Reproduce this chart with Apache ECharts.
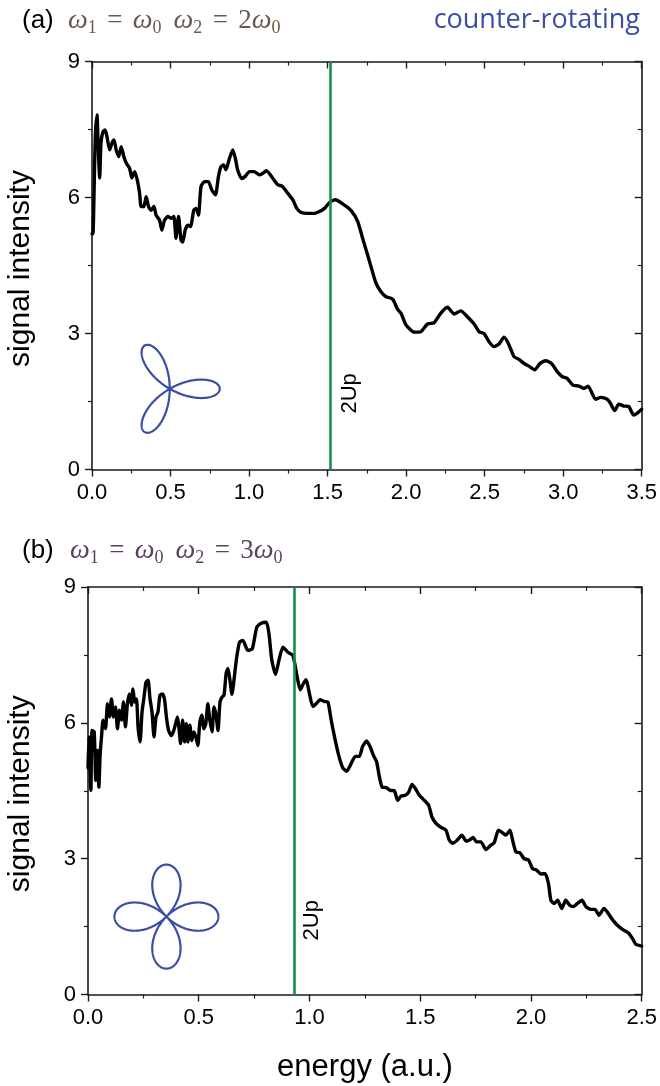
<!DOCTYPE html>
<html>
<head>
<meta charset="utf-8">
<script src="https://cdn.jsdelivr.net/npm/echarts@6/dist/echarts.min.js"></script>
<style>html,body{margin:0;padding:0;background:#fff}#c{width:660px;height:1086px}</style>
</head>
<body>
<div id="c"></div>
<script>
// ---------- data ----------
const topEnergy = [0.000,0.006,0.013,0.021,0.032,0.038,0.049,0.057,0.070,0.084,0.097,0.112,0.127,0.140,0.154,0.170,0.186,0.203,0.218,0.239,0.254,0.271,0.288,0.303,0.313,0.330,0.345,0.360,0.377,0.394,0.408,0.430,0.445,0.462,0.483,0.504,0.521,0.535,0.551,0.567,0.578,0.593,0.610,0.627,0.648,0.663,0.678,0.694,0.716,0.741,0.762,0.786,0.805,0.821,0.838,0.853,0.875,0.896,0.913,0.927,0.953,0.974,1.002,1.033,1.065,1.086,1.110,1.152,1.183,1.211,1.247,1.279,1.304,1.332,1.374,1.416,1.448,1.480,1.512,1.550,1.596,1.650,1.692,1.723,1.755,1.777,1.808,1.840,1.872,1.914,1.946,1.967,1.999,2.052,2.094,2.136,2.179,2.221,2.263,2.306,2.348,2.390,2.433,2.465,2.496,2.528,2.560,2.592,2.623,2.651,2.687,2.719,2.750,2.782,2.820,2.850,2.888,2.926,2.962,2.994,3.025,3.062,3.100,3.132,3.159,3.184,3.206,3.238,3.280,3.301,3.328,3.354,3.386,3.417,3.449,3.470,3.500];
const topSignal = [5.2,5.2,6.1,7.34,7.82,7.27,6.43,7.2,7.45,7.49,7.31,7.05,7.2,7.27,7.05,6.9,7.12,6.9,6.76,6.65,6.43,6.57,6.39,6.1,5.8,5.8,6.02,5.8,5.72,5.8,5.61,5.5,5.28,5.5,5.58,5.54,5.58,5.1,5.58,5.06,5.02,5.28,5.39,5.36,5.72,5.76,5.61,6.24,6.35,6.35,6.17,6.06,6.46,6.68,6.72,6.61,6.86,7.05,6.86,6.61,6.42,6.46,6.57,6.57,6.5,6.53,6.59,6.42,6.28,6.25,6.09,5.95,5.76,5.67,5.65,5.65,5.69,5.76,5.89,5.95,5.86,5.71,5.47,5.1,4.73,4.47,4.11,3.92,3.81,3.76,3.53,3.45,3.19,3.03,3.04,3.21,3.24,3.45,3.58,3.43,3.5,3.37,3.21,3.04,3.0,2.82,2.71,2.77,2.92,2.78,2.49,2.43,2.34,2.28,2.2,2.33,2.4,2.34,2.16,2.05,2.01,1.86,1.84,1.79,1.84,1.68,1.55,1.59,1.55,1.46,1.3,1.44,1.4,1.39,1.2,1.24,1.33];

const botEnergy = [0.000,0.004,0.013,0.018,0.028,0.035,0.043,0.049,0.055,0.061,0.068,0.079,0.088,0.097,0.106,0.115,0.124,0.133,0.142,0.151,0.160,0.169,0.178,0.187,0.196,0.203,0.211,0.219,0.226,0.235,0.244,0.253,0.262,0.271,0.280,0.289,0.298,0.307,0.316,0.325,0.337,0.346,0.355,0.364,0.376,0.385,0.394,0.404,0.411,0.418,0.427,0.436,0.444,0.451,0.460,0.469,0.478,0.487,0.496,0.505,0.514,0.523,0.532,0.541,0.550,0.560,0.569,0.578,0.587,0.596,0.605,0.614,0.624,0.632,0.641,0.650,0.659,0.670,0.684,0.699,0.722,0.742,0.762,0.782,0.805,0.817,0.830,0.847,0.862,0.880,0.902,0.925,0.943,0.958,0.973,0.985,1.000,1.015,1.030,1.048,1.068,1.083,1.098,1.113,1.132,1.150,1.168,1.188,1.207,1.225,1.240,1.258,1.274,1.289,1.303,1.316,1.328,1.346,1.364,1.383,1.398,1.413,1.433,1.448,1.463,1.478,1.496,1.514,1.538,1.553,1.571,1.594,1.616,1.631,1.646,1.669,1.688,1.707,1.725,1.739,1.754,1.774,1.797,1.819,1.834,1.853,1.872,1.887,1.905,1.917,1.932,1.950,1.969,1.989,2.007,2.025,2.045,2.064,2.079,2.090,2.105,2.120,2.139,2.157,2.175,2.190,2.210,2.230,2.248,2.270,2.289,2.307,2.330,2.349,2.367,2.390,2.413,2.440,2.458,2.473,2.500];
const botSignal = [5.0,5.69,4.51,5.83,5.8,4.73,5.39,4.58,5.32,5.69,6.06,5.87,6.42,6.13,6.53,6.13,6.35,5.87,6.28,6.06,6.46,5.91,6.42,6.64,6.39,6.75,6.46,6.53,5.91,5.58,6.24,6.57,6.9,6.94,6.53,6.24,5.69,6.13,6.24,6.61,6.64,6.5,6.09,5.83,5.72,5.8,5.95,6.13,5.87,5.54,6.06,5.58,5.98,5.58,5.95,5.61,5.8,5.69,5.5,6.02,6.17,5.87,5.98,6.42,6.06,5.8,6.35,6.17,5.83,6.46,6.57,6.61,7.1,7.2,6.94,6.63,6.94,7.4,7.78,7.82,7.6,7.64,8.11,8.2,8.22,7.97,7.38,7.07,7.38,7.67,7.56,7.49,7.05,6.73,6.87,6.95,6.64,6.36,6.42,6.51,6.47,6.46,6.06,5.69,5.28,5.01,4.93,5.1,5.26,5.26,5.48,5.6,5.47,5.28,5.14,4.8,4.58,4.57,4.51,4.5,4.29,4.38,4.4,4.47,4.64,4.55,4.4,4.31,4.18,3.92,3.78,3.69,3.63,3.41,3.34,3.42,3.52,3.39,3.42,3.47,3.37,3.37,3.2,3.3,3.35,3.63,3.57,3.52,3.63,3.41,3.15,3.13,3.0,2.97,2.78,2.75,2.66,2.67,2.45,2.08,2.01,2.08,1.9,2.08,1.97,1.94,2.01,2.08,1.94,1.88,1.88,1.75,1.9,1.79,1.66,1.53,1.44,1.36,1.24,1.11,1.07];

// axis ranges [min, max, interval]
const topX = [0, 3.5, 0.5];
const botX = [0, 2.5, 0.5];
const yRange = [0, 9, 3];
// 2Up positions (energy)
const up2 = [1.525, 0.929];
const upLabel = '2Up';
const yName = 'signal intensity';
const xName = 'energy (a.u.)';

// ---------- chart ----------
const chart = echarts.init(document.getElementById('c'), null, {renderer: 'canvas'});
const AX = '#1a1a1a';
const SANS = "'Liberation Sans', Arial, sans-serif";
const SERIF = "'Liberation Serif', 'DejaVu Serif', serif";

function axis(gridIndex, pos, range, showLabel, inside, fmt) {
  return {
    type: 'value', gridIndex: gridIndex, position: pos,
    min: range[0], max: range[1], interval: range[2],
    axisLine: {show: true, onZero: false, lineStyle: {color: AX, width: 1.6}},
    axisTick: {show: true, inside: inside, length: 7, lineStyle: {color: AX, width: 1.4}},
    minorTick: {show: true, splitNumber: 2, length: 4, lineStyle: {color: AX, width: 1.2}},
    splitLine: {show: false}, minorSplitLine: {show: false},
    axisLabel: {show: showLabel, fontSize: 22, color: '#000', fontFamily: SANS, margin: 12, formatter: fmt}
  };
}
const fx = v => v.toFixed(1);
const fy = v => String(v);

function lineSeries(xi, yi, xs, ys, mark) {
  return {
    type: 'line', xAxisIndex: xi, yAxisIndex: yi,
    data: xs.map((e, i) => [e, ys[i]]),
    showSymbol: false, smooth: 0.2,
    lineStyle: {color: '#000', width: 3.4, join: 'round', cap: 'round'},
    markLine: {
      silent: true, symbol: 'none', label: {show: false},
      lineStyle: {color: '#15904b', width: 2.6, type: 'solid'},
      data: [{xAxis: mark}]
    },
    z: 3
  };
}

const option = {
  animation: false,
  backgroundColor: '#fff',
  grid: [
    {left: 92, top: 61.5, width: 551, height: 408},
    {left: 88, top: 587, width: 555, height: 407.5}
  ],
  xAxis: [
    axis(0, 'bottom', topX, true, false, fx),
    axis(0, 'top', topX, false, true, fx),
    axis(1, 'bottom', botX, true, false, fx),
    axis(1, 'top', botX, false, true, fx)
  ],
  yAxis: [
    axis(0, 'left', yRange, true, false, fy),
    axis(0, 'right', yRange, false, true, fy),
    axis(1, 'left', yRange, true, false, fy),
    axis(1, 'right', yRange, false, true, fy)
  ],
  series: [
    lineSeries(0, 0, topEnergy, topSignal, up2[0]),
    lineSeries(2, 2, botEnergy, botSignal, up2[1])
  ]
};
chart.setOption(option);

// ---------- annotations ----------
function rose(center, k, L, color) {
  const pts = [];
  const n = 720;
  for (let i = 0; i <= n; i++) {
    const t = Math.PI * 2 * i / n;
    const r = L * Math.cos(k * t);
    pts.push([center[0] + r * Math.cos(t), center[1] - r * Math.sin(t)]);
  }
  return {type: 'polyline', shape: {points: pts}, style: {stroke: color, lineWidth: 2.2, fill: null}, z: 5};
}

const p1 = chart.convertToPixel({gridIndex: 0}, [0.495, 1.78]);
const p2 = chart.convertToPixel({gridIndex: 1}, [0.354, 1.72]);
const u1 = chart.convertToPixel({gridIndex: 0}, [up2[0], 1.68]);
const u2 = chart.convertToPixel({gridIndex: 1}, [up2[1], 1.64]);
const g0 = chart.convertToPixel({gridIndex: 0}, [0, 4.5]);
const g1 = chart.convertToPixel({gridIndex: 1}, [0, 4.5]);

const eqRich = {
  w: {fontFamily: SERIF, fontStyle: 'italic', fontSize: 28, lineHeight: 32, verticalAlign: 'middle'},
  n: {fontFamily: SERIF, fontSize: 27, lineHeight: 32, verticalAlign: 'middle'},
  g: {fontFamily: SERIF, fontSize: 27, lineHeight: 32, verticalAlign: 'middle', width: 12},
  e: {fontFamily: SERIF, fontSize: 27, lineHeight: 32, verticalAlign: 'middle', width: 36, align: 'center'},
  s: {fontFamily: SERIF, fontSize: 18, lineHeight: 24, verticalAlign: 'bottom'}
};
function eqText(x, y, second, color) {
  return {
    type: 'text', left: x, top: y - 16, z: 10,
    style: {
      text: '{w|ω}{s|1}{e|=}{w|ω}{s|0}{g| }{w|ω}{s|2}{e|=}{n|' + second + '}{w|ω}{s|0}',
      rich: eqRich, fill: color
    }
  };
}

chart.setOption({
  graphic: [
    {type: 'text', x: 22, y: 21, style: {text: '(a)', font: '26px ' + SANS, fill: '#000', textVerticalAlign: 'middle'}},
    eqText(68, 23, '2', '#6a5848'),
    {type: 'text', x: 640, y: 20, style: {text: 'counter-rotating', font: "27px 'Open Sans', sans-serif", fill: '#3b4ea3', textAlign: 'right', textVerticalAlign: 'middle'}},
    {type: 'text', x: 22, y: 551, style: {text: '(b)', font: '26px ' + SANS, fill: '#000', textVerticalAlign: 'middle'}},
    eqText(70, 553, '3', '#5a3f5e'),
    {type: 'text', x: 21, y: g0[1] + 3, rotation: Math.PI / 2, style: {text: yName, font: '30px ' + SANS, fill: '#000', textAlign: 'center', textVerticalAlign: 'middle'}},
    {type: 'text', x: 21, y: g1[1] + 3, rotation: Math.PI / 2, style: {text: yName, font: '30px ' + SANS, fill: '#000', textAlign: 'center', textVerticalAlign: 'middle'}},
    {type: 'text', x: 365, y: 1067, style: {text: xName, font: '31px ' + SANS, fill: '#000', textAlign: 'center', textVerticalAlign: 'middle'}},
    {type: 'text', x: u1[0] + 18, y: u1[1], rotation: Math.PI / 2, style: {text: upLabel, font: '22px ' + SANS, fill: '#000', textAlign: 'center', textVerticalAlign: 'middle'}},
    {type: 'text', x: u2[0] + 18, y: u2[1], rotation: Math.PI / 2, style: {text: upLabel, font: '22px ' + SANS, fill: '#000', textAlign: 'center', textVerticalAlign: 'middle'}},
    rose(p1, 3, 50, '#3b4ea3'),
    rose(p2, 2, 52, '#3b4ea3')
  ]
});
</script>
</body>
</html>
